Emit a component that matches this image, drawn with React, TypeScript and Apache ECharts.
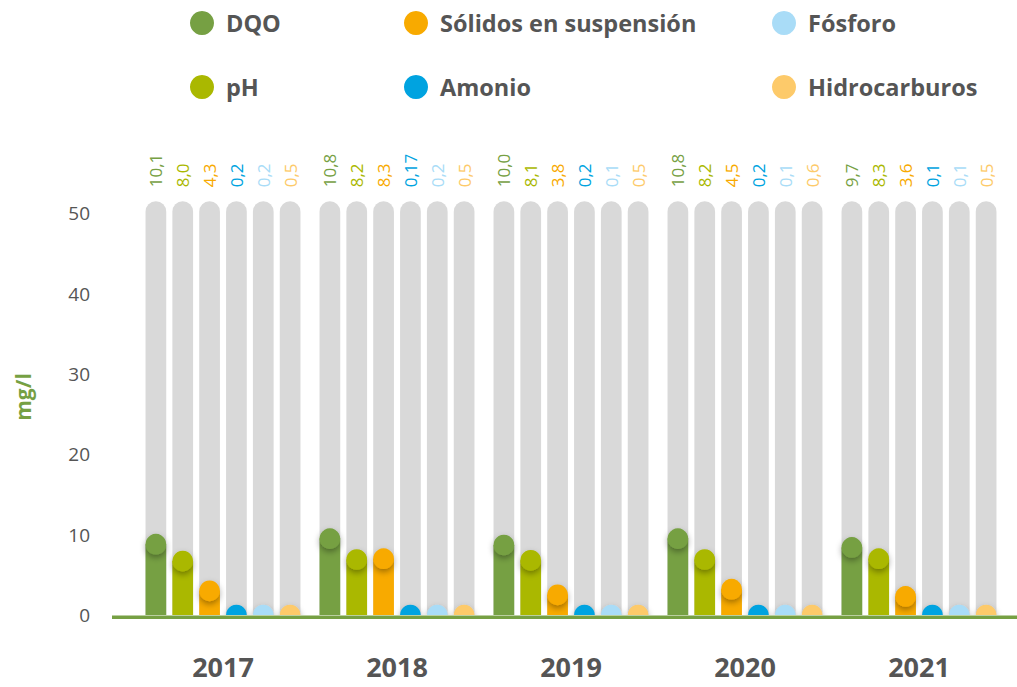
import React, { useEffect, useRef } from "react";
import * as echarts from "echarts";

const years = ["2017", "2018", "2019", "2020", "2021"];
const seriesNames = ["DQO", "pH", "Sólidos en suspensión", "Amonio", "Fósforo", "Hidrocarburos"];
const dqo = [10.1, 10.8, 10.0, 10.8, 9.7];
const ph = [8.0, 8.2, 8.1, 8.2, 8.3];
const solidos = [4.3, 8.3, 3.8, 4.5, 3.6];
const amonio = [0.2, 0.17, 0.2, 0.2, 0.1];
const fosforo = [0.2, 0.2, 0.1, 0.1, 0.1];
const hidrocarburos = [0.5, 0.5, 0.5, 0.6, 0.5];
const yTicks = [0, 10, 20, 30, 40, 50];
const TRACK_MAX = 51.5;

const allValues = [dqo, ph, solidos, amonio, fosforo, hidrocarburos];
const colors = ["#76a043", "#aab800", "#f8aa00", "#00a3e0", "#a9dcf7", "#fdca6a"];
const FONT = "'Open Sans', 'Noto Sans', sans-serif";

const fmt = (v: number) => {
  const s = String(v);
  return (s.includes(".") ? s : v.toFixed(1)).replace(".", ",");
};

function makeRender(si: number, color: string) {
  return (params: any, api: any) => {
    const idx = api.value(0);
    const val = api.value(1);
    const base = api.coord([idx, 0]);
    const topP = api.coord([idx, val]);
    const trackTop = api.coord([idx, TRACK_MAX]);
    const band = api.size([1, 0])[0];
    const pitch = band * 0.1543;
    const w = band * 0.119;
    const r = w / 2;
    const cx = base[0] + (si - 2.5) * pitch;
    const cy = Math.min(topP[1] + r, base[1]);
    return {
      type: "group",
      children: [
        {
          type: "rect",
          shape: { x: cx - r, y: trackTop[1], width: w, height: base[1] - trackTop[1], r: [r, r, 0, 0] },
          style: { fill: "#d9d9d9" },
        },
        {
          type: "rect",
          shape: { x: cx - r, y: cy, width: w, height: Math.max(0, base[1] - cy) },
          style: { fill: color },
        },
        {
          type: "circle",
          shape: { cx, cy, r },
          style: { fill: color, shadowBlur: 6, shadowOffsetY: 3, shadowColor: "rgba(0,0,0,0.35)" },
        },
        {
          type: "text",
          x: cx,
          y: trackTop[1] - 14,
          rotation: Math.PI / 2,
          style: {
            text: fmt(val),
            fill: color,
            fontSize: 17,
            fontFamily: FONT,
            align: "left",
            verticalAlign: "middle",
          },
        },
      ],
    };
  };
}

export default function App() {
  const ref = useRef<HTMLDivElement>(null);
  useEffect(() => {
    if (!ref.current) return;
    const chart = echarts.init(ref.current, null, { renderer: "svg" });
    const legendText = {
      fontSize: 23.5,
      fontWeight: "bold" as const,
      color: "#555555",
      fontFamily: FONT,
      lineHeight: 24,
      padding: [0, 0, 0, 7],
    };
    const mkLegend = (left: number, names: string[]) => ({
      orient: "vertical",
      left,
      top: 11,
      padding: 0,
      icon: "circle",
      itemWidth: 24,
      itemHeight: 24,
      itemGap: 40,
      selectedMode: false,
      textStyle: legendText,
      data: names,
    });
    chart.setOption({
      animation: false,
      color: colors,
      legend: [
        mkLegend(190, ["DQO", "pH"]),
        mkLegend(404, ["Sólidos en suspensión", "Amonio"]),
        mkLegend(772, ["Fósforo", "Hidrocarburos"]),
      ],
      grid: { left: 136, right: 11, top: 133, bottom: 72 },
      xAxis: {
        type: "category",
        data: years,
        axisLine: { show: false },
        axisTick: { show: false },
        axisLabel: {
          margin: 39,
          fontSize: 27,
          lineHeight: 25,
          fontWeight: "bold",
          color: "#555555",
          fontFamily: FONT,
        },
      },
      yAxis: {
        type: "value",
        min: 0,
        max: 60,
        interval: 10,
        splitLine: { show: false },
        axisLine: { show: false },
        axisTick: { show: false },
        axisLabel: {
          showMaxLabel: false,
          margin: 46,
          fontSize: 19,
          color: "#555555",
          fontFamily: FONT,
          formatter: (v: number) => (yTicks.includes(v) ? String(v) : ""),
        },
      },
      graphic: [
        {
          type: "rect",
          z: 100,
          shape: { x: 112, y: 615.5, width: 905, height: 3.5 },
          style: { fill: "#76a043" },
        },
        {
          type: "text",
          x: 23,
          y: 397,
          rotation: Math.PI / 2,
          style: {
            text: "mg/l",
            fill: "#76a043",
            fontSize: 21,
            fontWeight: "bold",
            fontFamily: FONT,
            align: "center",
            verticalAlign: "middle",
          },
        },
      ],
      series: seriesNames.map((name, si) => ({
        name,
        type: "custom",
        clip: true,
        itemStyle: { color: colors[si] },
        encode: { x: 0, y: 1 },
        data: allValues[si].map((v, i) => [i, v]),
        renderItem: makeRender(si, colors[si]),
      })),
    });
    return () => chart.dispose();
  }, []);
  return (
    <div
      ref={ref}
      style={{ position: "absolute", left: 0, top: 0, width: 1017, height: 687 }}
    />
  );
}
